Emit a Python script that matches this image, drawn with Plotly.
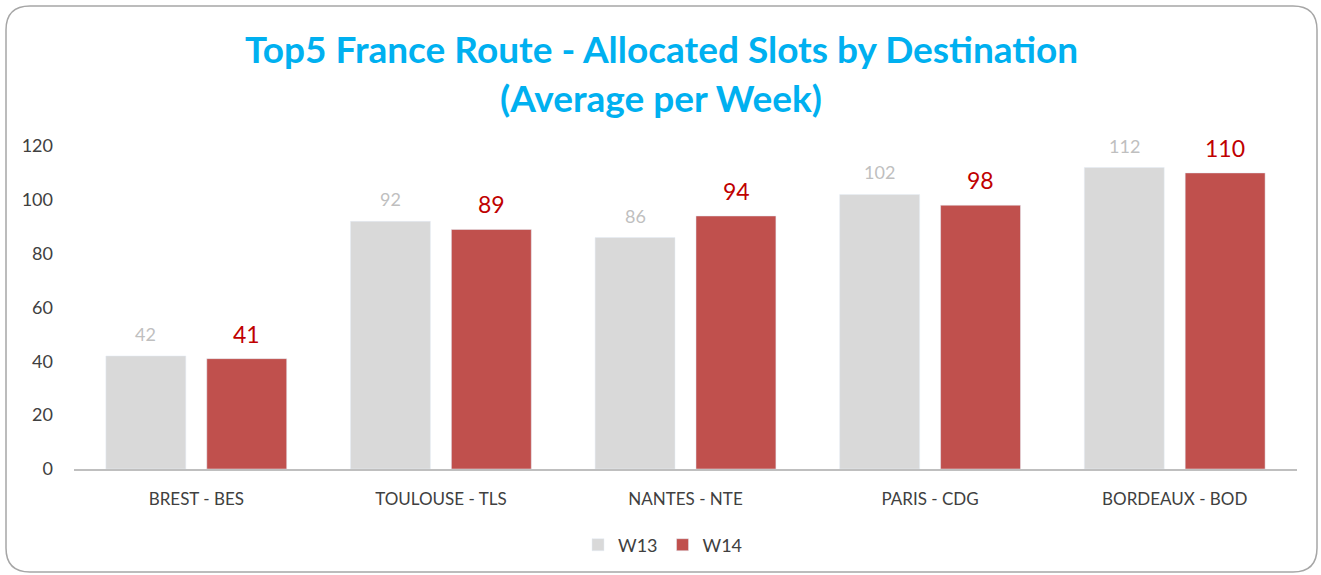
import plotly.graph_objects as go

categories = ["BREST - BES", "TOULOUSE - TLS", "NANTES - NTE", "PARIS - CDG", "BORDEAUX - BOD"]
w13 = [42, 92, 86, 102, 112]
w14 = [41, 89, 94, 98, 110]
y_ticks = [0, 20, 40, 60, 80, 100, 120]

W, H = 1321, 575
L, R, T, B = 74, 24, 146, 106
pw, ph = W - L - R, H - T - B

def px(x):
    return (x - L) / pw

def py(y):
    return (H - B - y) / ph

fig = go.Figure()
fig.add_trace(go.Bar(name="W13", x=categories, y=w13, marker_color="#D9D9D9"))
fig.add_trace(go.Bar(name="W14", x=categories, y=w14, marker_color="#C0504D"))

# value labels
for c, v in zip(categories, w13):
    fig.add_annotation(x=c, y=v, text=str(v), showarrow=False, xshift=-50.5, yshift=9,
                       yanchor="bottom", font=dict(family="Lato, sans-serif", size=18, color="#BFBFBF"))
for c, v in zip(categories, w14):
    fig.add_annotation(x=c, y=v, text=str(v), showarrow=False, xshift=50.5, yshift=9,
                       yanchor="bottom", font=dict(family="Lato, sans-serif", size=23, color="#C00000"))

# title lines
fig.add_annotation(xref="paper", yref="paper", x=px(661), y=py(48), text="<b>Top5 France Route - Allocated Slots by Destination</b>",
                   showarrow=False, xanchor="center", yanchor="middle",
                   font=dict(family="Lato, sans-serif", size=37, color="#00B0F0"))
fig.add_annotation(xref="paper", yref="paper", x=px(661), y=py(97), text="<b>(Average per Week)</b>",
                   showarrow=False, xanchor="center", yanchor="middle",
                   font=dict(family="Lato, sans-serif", size=37, color="#00B0F0"))

# rounded chart border
x0, x1, y0, y1, r = 6, 1317, 6, 572, 24
path = (f"M {px(x0 + r)} {py(y0)} L {px(x1 - r)} {py(y0)} Q {px(x1)} {py(y0)} {px(x1)} {py(y0 + r)} "
        f"L {px(x1)} {py(y1 - r)} Q {px(x1)} {py(y1)} {px(x1 - r)} {py(y1)} "
        f"L {px(x0 + r)} {py(y1)} Q {px(x0)} {py(y1)} {px(x0)} {py(y1 - r)} "
        f"L {px(x0)} {py(y0 + r)} Q {px(x0)} {py(y0)} {px(x0 + r)} {py(y0)} Z")
fig.add_shape(type="path", xref="paper", yref="paper", path=path,
              line=dict(color="#A6A6A6", width=1.5), fillcolor="rgba(0,0,0,0)", layer="below")

fig.update_layout(
    width=W, height=H,
    margin=dict(l=L, r=R, t=T, b=B),
    paper_bgcolor="white", plot_bgcolor="white",
    barmode="group", bargap=0.175, bargroupgap=0.208,
    font=dict(family="Lato, sans-serif", size=18, color="#404040"),
    showlegend=True,
    legend=dict(orientation="h", x=px(663), xanchor="center", y=py(545), yanchor="middle",
                font=dict(size=18, color="#404040"), itemwidth=30, traceorder="normal"),
)
fig.update_xaxes(showline=True, linecolor="#BFBFBF", linewidth=1.5, showgrid=False,
                 ticks="", ticklabelstandoff=14, tickfont=dict(size=17, color="#404040"))
fig.update_yaxes(range=[0, 120], tickvals=y_ticks, showgrid=False, zeroline=False, showline=False,
                 ticklabelstandoff=20, tickfont=dict(size=18, color="#404040"))

fig.write_html("out.html", config={"displayModeBar": False},
               post_script="document.body.style.margin='0';document.body.style.overflow='hidden';")
